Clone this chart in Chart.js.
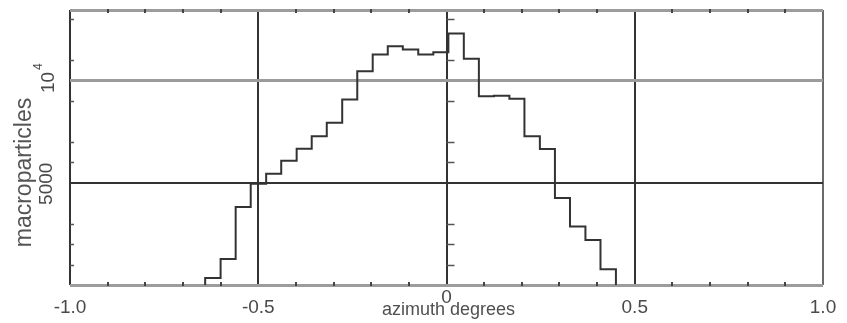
<!DOCTYPE html>
<html>
<head>
<meta charset="utf-8">
<script src="https://cdn.jsdelivr.net/npm/chart.js@4.4.0/dist/chart.umd.min.js"></script>
<style>
  body { margin: 0; background: #fff; }
  #wrap { width: 847px; height: 323px; }
</style>
</head>
<body>
<div id="wrap"><canvas id="chart" width="847" height="323"></canvas></div>
<script>
// bin edges of the histogram (azimuth, degrees)
const binEdges = [-0.641, -0.600, -0.560, -0.520, -0.479, -0.439, -0.398, -0.358, -0.318,
                  -0.277, -0.237, -0.196, -0.156, -0.116, -0.075, -0.035, 0.005, 0.046,
                  0.086, 0.126, 0.167, 0.207, 0.248, 0.288, 0.328, 0.369, 0.409, 0.450];
// macroparticles in each bin
const counts = [340, 1270, 3820, 4950, 5440, 6080, 6660, 7270, 7940, 9070, 10450, 11270, 11680,
                11520, 11270, 11380, 12300, 11060, 9230, 9260, 9110, 7270, 6650, 4250, 2860, 2200, 770];

const xTickValues = [-1, -0.5, 0, 0.5, 1];
const xTickLabels = ['-1.0', '-0.5', '0', '0.5', '1.0'];
const xMinorTicks = [-0.9, -0.8, -0.7, -0.6, -0.4, -0.3, -0.2, -0.1, 0.1, 0.2, 0.3, 0.4, 0.6, 0.7, 0.8, 0.9];
const yTickValues = [0, 5000, 10000];
const yMinorTicks = [1000, 2000, 3000, 6000, 7000, 9000, 11000, 13000];
const yMax = 13450;

// points of the step outline
const points = [{ x: binEdges[0], y: 0 }];
counts.forEach((c, i) => {
  points.push({ x: binEdges[i], y: c });
  points.push({ x: binEdges[i + 1], y: c });
});
points.push({ x: binEdges[binEdges.length - 1], y: 0 });

const FONT = '"Liberation Sans", Arial, sans-serif';

// ticks, tick labels and axis titles
const decorPlugin = {
  id: 'decor',
  afterDraw(chart) {
    const { ctx, chartArea, scales: { x, y } } = chart;
    ctx.save();

    // minor ticks
    ctx.fillStyle = '#444';
    xMinorTicks.forEach(v => {
      const px = Math.round(x.getPixelForValue(v));
      ctx.fillRect(px - 1, chartArea.bottom - 3, 2, 4);
      ctx.fillRect(px - 1, chartArea.top - 1, 2, 4);
    });
    ctx.strokeStyle = '#555';
    ctx.lineWidth = 1.5;
    const x0 = x.getPixelForValue(0);
    yMinorTicks.forEach(v => {
      const py = Math.round(y.getPixelForValue(v)) + 0.5;
      ctx.beginPath();
      ctx.moveTo(chartArea.left, py); ctx.lineTo(chartArea.left + 4, py);
      ctx.moveTo(x0, py); ctx.lineTo(x0 + 8, py);
      ctx.stroke();
    });

    // x tick labels
    ctx.fillStyle = '#4a4a4a';
    ctx.font = '19px ' + FONT;
    ctx.textAlign = 'center';
    ctx.textBaseline = 'middle';
    xTickValues.forEach((v, i) => {
      const yy = v === 0 ? chartArea.bottom + 13 : chartArea.bottom + 23;
      ctx.fillText(xTickLabels[i], x.getPixelForValue(v), yy);
    });

    // x title
    ctx.fillStyle = '#505050';
    ctx.font = '18px ' + FONT;
    ctx.fillText('azimuth degrees', x0 + 2, chartArea.bottom + 25);

    // y tick labels (rotated)
    const p5 = y.getPixelForValue(5000);
    ctx.save();
    ctx.translate(47, p5);
    ctx.rotate(-Math.PI / 2);
    ctx.fillStyle = '#4a4a4a';
    ctx.font = '19px ' + FONT;
    ctx.fillText('5000', -1, 0);
    ctx.restore();

    const p10 = y.getPixelForValue(10000);
    ctx.save();
    ctx.translate(49, p10);
    ctx.rotate(-Math.PI / 2);
    ctx.fillStyle = '#4a4a4a';
    ctx.font = '19px ' + FONT;
    ctx.fillText('10', -2, 0);
    ctx.font = '12px ' + FONT;
    ctx.fillText('4', 14, -10);
    ctx.restore();

    // y title
    ctx.save();
    ctx.translate(25, (chartArea.top + chartArea.bottom) / 2 + 25);
    ctx.rotate(-Math.PI / 2);
    ctx.fillStyle = '#555';
    ctx.font = '23px ' + FONT;
    ctx.fillText('macroparticles', 0, 0);
    ctx.restore();

    ctx.restore();
  }
};

new Chart(document.getElementById('chart'), {
  type: 'line',
  data: {
    datasets: [{
      data: points,
      borderColor: '#333',
      borderWidth: 2,
      pointRadius: 0,
      fill: false,
      tension: 0
    }]
  },
  options: {
    responsive: false,
    animation: false,
    devicePixelRatio: 1,
    layout: { padding: { left: 70, right: 24, top: 10, bottom: 38 } },
    plugins: { legend: { display: false }, tooltip: { enabled: false } },
    scales: {
      x: {
        type: 'linear',
        min: -1,
        max: 1,
        afterBuildTicks: s => { s.ticks = xTickValues.map(v => ({ value: v })); },
        ticks: { display: false },
        border: { display: false },
        grid: {
          drawTicks: false,
          color: c => c.tick.value === 1 ? '#6a6a6a' : '#333',
          lineWidth: 2
        }
      },
      y: {
        min: 0,
        max: yMax,
        afterBuildTicks: s => { s.ticks = yTickValues.concat([yMax]).map(v => ({ value: v })); },
        ticks: { display: false },
        border: { display: false },
        grid: {
          drawTicks: false,
          color: c => c.tick.value === 5000 ? '#333' : '#9c9c9c',
          lineWidth: c => c.tick.value === 5000 ? 2 : 3
        }
      }
    }
  },
  plugins: [decorPlugin]
});
</script>
</body>
</html>
